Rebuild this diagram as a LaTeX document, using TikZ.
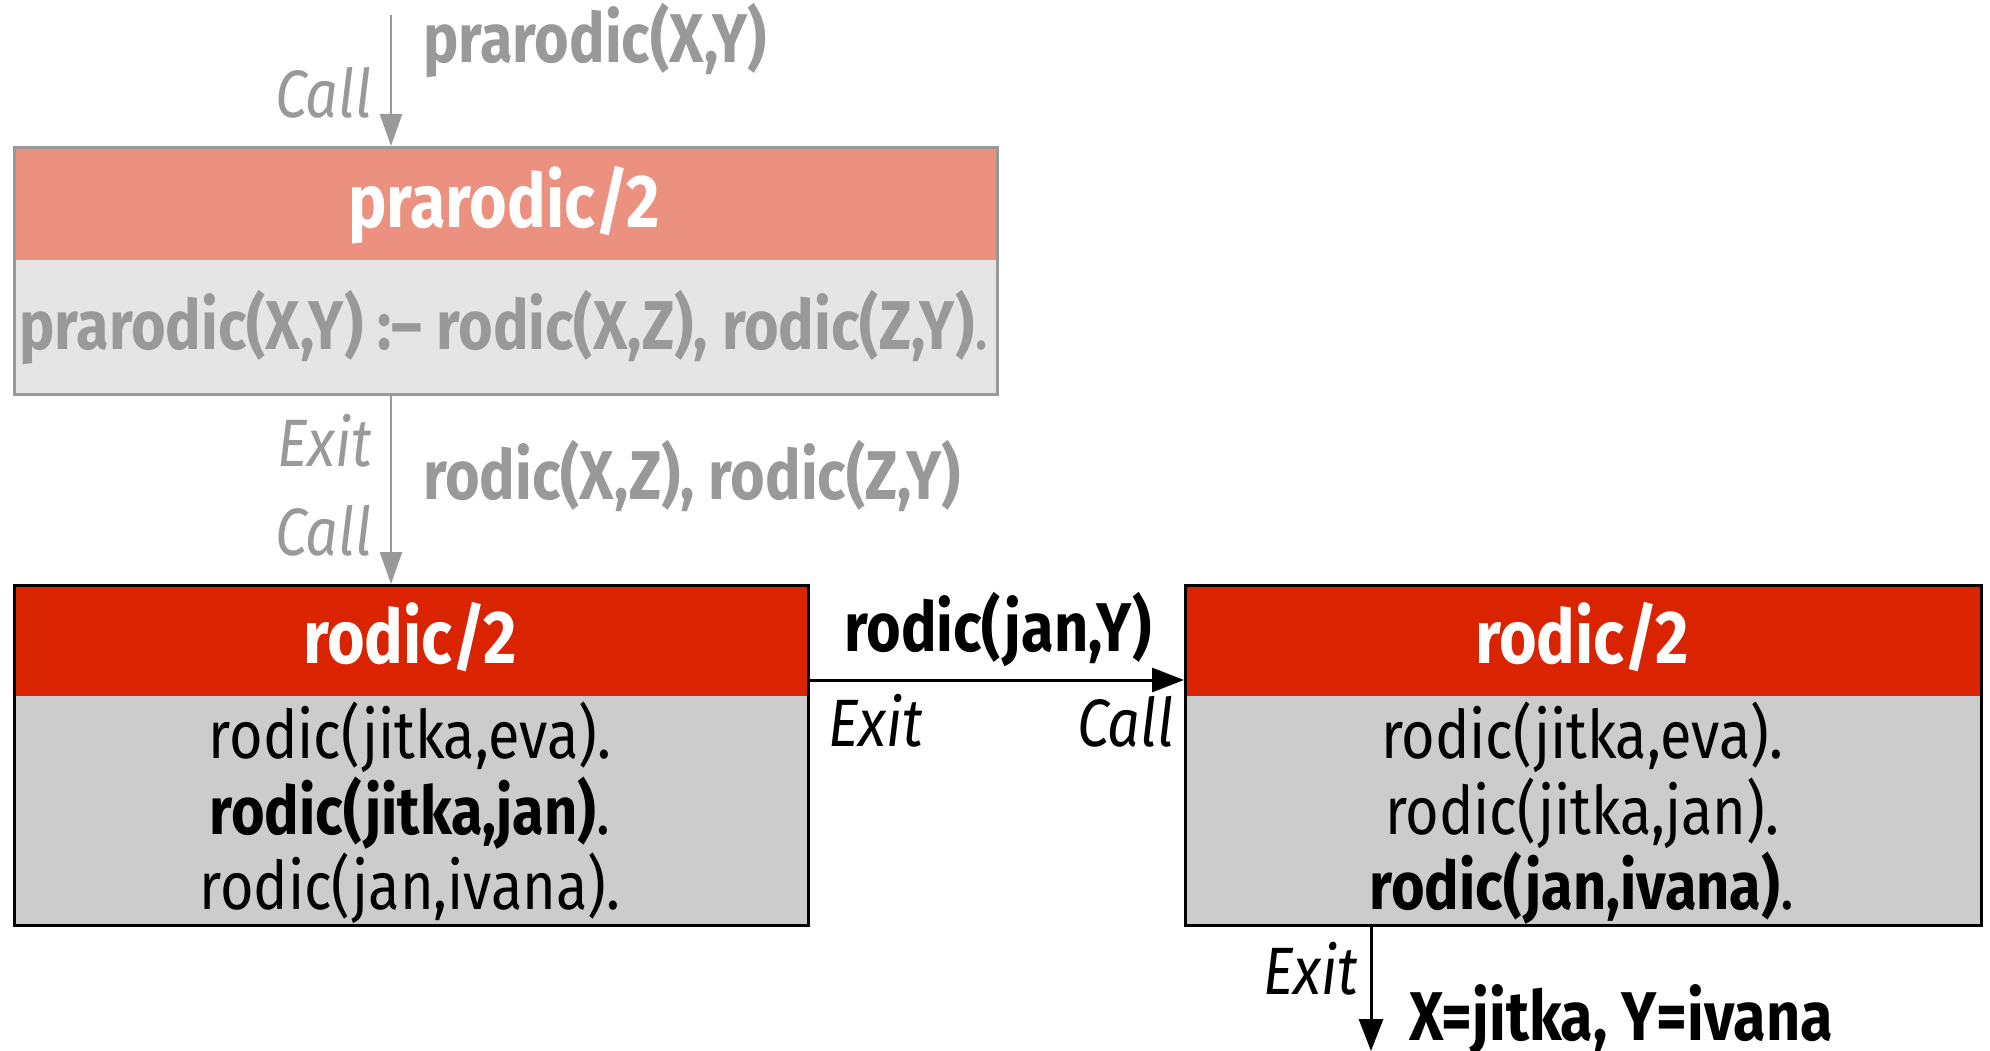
\documentclass[tikz,border=0pt]{standalone}
\usepackage{fontspec}
\setmainfont{Fira Sans}[FakeStretch=0.86]
\usetikzlibrary{arrows.meta}
\definecolor{salmon}{HTML}{EC9180}
\definecolor{lgray}{HTML}{E5E5E5}
\definecolor{mgray}{HTML}{CCCCCC}
\definecolor{tgray}{HTML}{999999}
\definecolor{hred}{HTML}{DA2300}
\tikzset{
  txt/.style={inner sep=0pt, font=\fontsize{67}{80}\selectfont},
  wtxt/.style={inner sep=0pt, font=\fontsize{69}{80}\selectfont},
  btxt/.style={inner sep=0pt, font=\fontsize{69}{80}\selectfont\bfseries},
  itxt/.style={txt, font=\fontsize{67}{80}\selectfont\itshape},
  htxt/.style={inner sep=0pt, text=white, font=\fontsize{75}{90}\selectfont\bfseries},
  area/.style={inner sep=0pt, anchor=north west, draw=none},
  frame/.style={inner sep=0pt, anchor=north west, line width=3pt},
  garrow/.style={draw=tgray, line width=2.5pt, -{Triangle[length=32pt,width=22pt]}},
  karrow/.style={draw=black, line width=3pt, -{Triangle[length=32pt,width=24pt]}},
}
\begin{document}
\begin{tikzpicture}[x=1pt,y=-1pt]
\useasboundingbox (0,0) rectangle (1990,1051);
% box 1
\node[area, fill=salmon, minimum width=983pt, minimum height=114pt] (b1h) at (13,146) {};
\node[area, fill=lgray, minimum width=983pt, minimum height=133pt] (b1b) at (13,260) {};
\node[frame, draw=tgray, minimum width=983pt, minimum height=247pt] (b1) at (13,146) {};
\node[htxt, anchor=base] (t1h) at (504,228) {prarodic/2};
\node[wtxt, text=tgray, anchor=base] (t1b) at (504,349) {\textbf{prarodic(X,Y) :– rodic(X,Z), rodic(Z,Y)}.};
% box 2
\node[area, fill=hred, minimum width=794pt, minimum height=112pt] (b2h) at (13,584) {};
\node[area, fill=mgray, minimum width=794pt, minimum height=228pt] (b2b) at (13,696) {};
\node[frame, draw=black, minimum width=794pt, minimum height=340pt] (b2) at (13,584) {};
\node[htxt, anchor=base] (t2h) at (410,663) {rodic/2};
\node[txt, anchor=base] (t2a) at (410,758) {rodic(jitka,eva).};
\node[txt, anchor=base] (t2b) at (410,834) {\textbf{rodic(jitka,jan)}.};
\node[txt, anchor=base] (t2c) at (410,909) {rodic(jan,ivana).};
% box 3
\node[area, fill=hred, minimum width=796pt, minimum height=112pt] (b3h) at (1184,584) {};
\node[area, fill=mgray, minimum width=796pt, minimum height=228pt] (b3b) at (1184,696) {};
\node[frame, draw=black, minimum width=796pt, minimum height=340pt] (b3) at (1184,584) {};
\node[htxt, anchor=base] (t3h) at (1582,663) {rodic/2};
\node[txt, anchor=base] (t3a) at (1582,758) {rodic(jitka,eva).};
\node[txt, anchor=base] (t3b) at (1582,834) {rodic(jitka,jan).};
\node[txt, anchor=base] (t3c) at (1582,909) {\textbf{rodic(jan,ivana)}.};
% arrows
\coordinate (top) at (391,15);
\draw[garrow] (top) -- (top |- b1.north);
\draw[garrow] (b1.south -| top) -- (b2.north -| top);
\coordinate (hy) at (0,680);
\draw[karrow] (b2.east |- hy) -- (b3.west |- hy);
\coordinate (bot) at (1371,1051);
\draw[karrow] (b3.south -| bot) -- (bot);
% labels
\node[btxt, text=tgray, anchor=base west] (l1) at (423,63) {prarodic(X,Y)};
\node[itxt, text=tgray, anchor=base east] (l2) at (372,118) {Call};
\node[itxt, text=tgray, anchor=base east] (l3) at (372,466) {Exit};
\node[btxt, text=tgray, anchor=base west] (l4) at (423,499) {rodic(X,Z), rodic(Z,Y)};
\node[itxt, text=tgray, anchor=base east] (l5) at (372,555) {Call};
\node[btxt, anchor=base] (l6) at (998,651) {rodic(jan,Y)};
\node[itxt, anchor=base west] (l7) at (828,746) {Exit};
\node[itxt, anchor=base east] (l8) at (1174,746) {Call};
\node[itxt, anchor=base east] (l9) at (1358,994) {Exit};
\node[btxt, anchor=base west] (l10) at (1409,1040) {X=jitka, Y=ivana};
\end{tikzpicture}
\end{document}
